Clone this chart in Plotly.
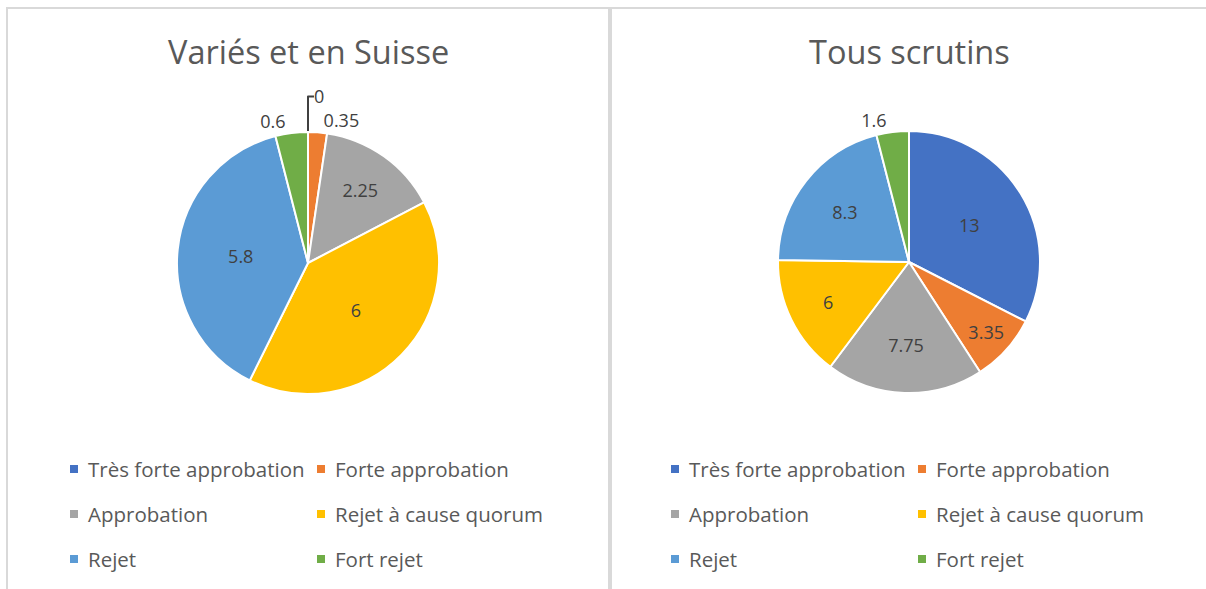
import plotly.graph_objects as go

# ── Data ──────────────────────────────────────────────────────────────────────
CATEGORIES = ["Très forte approbation", "Forte approbation", "Approbation",
              "Rejet à cause quorum", "Rejet", "Fort rejet"]
VARIES_SUISSE = [0, 0.35, 2.25, 6, 5.8, 0.6]
TOUS_SCRUTINS = [13, 3.35, 7.75, 6, 8.3, 1.6]
TITLES = ["Variés et en Suisse", "Tous scrutins"]

# ── Colours ───────────────────────────────────────────────────────────────────
COLORS = ["#4472C4", "#ED7D31", "#A5A5A5", "#FFC000", "#5B9BD5", "#70AD47"]
TITLE_C = "#595959"
LABEL_C = "#404040"
BORDER = "#D9D9D9"
FONT = "Open Sans"

W, H = 1206, 589


def px(x):
    return x / W


def py(y):
    return 1 - y / H


def pie(values, cx, cy, r, positions):
    return go.Pie(
        labels=CATEGORIES, values=values, sort=False, direction="clockwise", rotation=0,
        marker=dict(colors=COLORS, line=dict(color="white", width=2)),
        textinfo="value", textposition=positions, insidetextorientation="horizontal",
        textfont=dict(family=FONT, size=18, color=LABEL_C),
        domain=dict(x=[px(cx - r), px(cx + r)], y=[py(cy + r), py(cy - r)]),
        showlegend=False, hoverinfo="label+value",
    )


fig = go.Figure()
fig.add_trace(pie(VARIES_SUISSE, 308, 263, 131,
                  ["outside", "outside", "inside", "inside", "inside", "outside"]))
fig.add_trace(pie(TOUS_SCRUTINS, 909, 262, 131,
                  ["inside", "inside", "inside", "inside", "inside", "outside"]))

shapes, annotations = [], []

# chart frames
for x0, x1 in [(7, 609), (611, 1220)]:
    shapes.append(dict(type="rect", xref="paper", yref="paper",
                       x0=px(x0), x1=px(x1), y0=py(620), y1=py(8),
                       line=dict(color=BORDER, width=2), fillcolor="rgba(0,0,0,0)"))

# titles + manual two-column legends
for k, (title, cx, left) in enumerate(zip(TITLES, [308, 909], [70, 671])):
    annotations.append(dict(text=title, x=px(cx), y=py(52), xref="paper", yref="paper",
                            showarrow=False, xanchor="center", yanchor="middle",
                            font=dict(family=FONT, size=32.5, color=TITLE_C)))
    for i, (name, col) in enumerate(zip(CATEGORIES, COLORS)):
        x = left + (i % 2) * 247
        y = 469 + (i // 2) * 45
        shapes.append(dict(type="rect", xref="paper", yref="paper",
                           x0=px(x), x1=px(x + 8), y0=py(y + 4), y1=py(y - 4),
                           line=dict(width=0), fillcolor=col))
        annotations.append(dict(text=name, x=px(x + 16), y=py(y), xref="paper", yref="paper",
                                showarrow=False, xanchor="left", yanchor="middle",
                                font=dict(family=FONT, size=20.5, color=TITLE_C)))

fig.update_layout(
    width=W, height=H, margin=dict(l=0, r=0, t=0, b=0),
    paper_bgcolor="white", plot_bgcolor="white",
    shapes=shapes, annotations=annotations,
)
fig.write_html("out.html", config={"displayModeBar": False},
               post_script="document.body.style.margin = '0';")
